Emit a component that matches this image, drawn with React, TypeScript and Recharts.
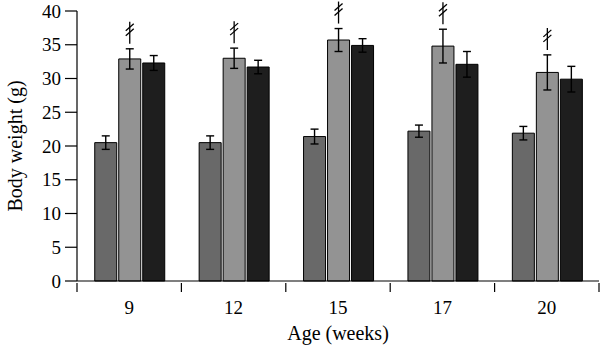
import { BarChart, Bar, XAxis, YAxis, ErrorBar, LabelList } from 'recharts';

const ages = ['9', '12', '15', '17', '20'];
const groupA = [20.5, 20.5, 21.4, 22.2, 21.9];
const groupAErr = [1.0, 1.0, 1.1, 0.9, 1.0];
const groupB = [32.9, 33.0, 35.7, 34.8, 30.9];
const groupBErr = [1.5, 1.5, 1.7, 2.5, 2.6];
const groupC = [32.3, 31.7, 34.9, 32.1, 29.9];
const groupCErr = [1.1, 1.0, 1.0, 1.9, 1.9];
const yTicks = [0, 5, 10, 15, 20, 25, 30, 35, 40];

const data = ages.map((age, i) => ({
  age,
  a: groupA[i],
  aErr: groupAErr[i],
  b: groupB[i],
  bErr: groupBErr[i],
  c: groupC[i],
  cErr: groupCErr[i],
}));

const FONT = '"Liberation Serif", "DejaVu Serif", serif';

// x tick: label in the middle, tick marks at the category edges
const AgeTick = (props: any) => {
  const { x, y, payload, index } = props;
  const half = payload && payload.offset ? payload.offset : 52.2;
  const top = y - 8;
  return (
    <g>
      <line x1={x - half} y1={top} x2={x - half} y2={top + 9} stroke="#000" strokeWidth={1.2} />
      {index === ages.length - 1 && (
        <line x1={x + half} y1={top} x2={x + half} y2={top + 9} stroke="#000" strokeWidth={1.2} />
      )}
      <text x={x} y={top + 31} textAnchor="middle" fontFamily={FONT} fontSize={19} fill="#000">
        {payload.value}
      </text>
    </g>
  );
};

// significance mark above the error bar of the second series
const HashMark = (props: any) => {
  const { x, y, width, height, value, index } = props;
  if (value == null) return null;
  const cx = x + width / 2;
  const errTop = y - groupBErr[index] * (height / value);
  const c = errTop - 17;
  return (
    <g stroke="#000" strokeWidth={1.3}>
      <line x1={cx} y1={errTop - 5} x2={cx} y2={errTop - 27} />
      <line x1={cx - 4} y1={c - 1} x2={cx + 4} y2={c - 8} />
      <line x1={cx - 4} y1={c + 4} x2={cx + 4} y2={c - 3} />
    </g>
  );
};

export default function App() {
  return (
    <div style={{ position: 'absolute', left: 0, top: 0, width: 600, height: 353, background: '#fff' }}>
      <BarChart
        width={600}
        height={353}
        data={data}
        margin={{ top: 11, right: 1, bottom: 0, left: 0 }}
        barCategoryGap="17%"
        barGap={2}
      >
        <XAxis
          dataKey="age"
          height={72}
          axisLine={{ stroke: '#000', strokeWidth: 1.2 }}
          tickLine={false}
          tick={<AgeTick />}
          tickSize={8}
          interval={0}
          label={{ value: 'Age (weeks)', position: 'insideBottom', offset: 13, fontFamily: FONT, fontSize: 20, fill: '#000' }}
        />
        <YAxis
          width={77}
          domain={[0, 40]}
          ticks={yTicks}
          interval={0}
          axisLine={{ stroke: '#000', strokeWidth: 1.2 }}
          tickLine={{ stroke: '#000', strokeWidth: 1.2 }}
          tickSize={12}
          tickMargin={4}
          tick={{ fontFamily: FONT, fontSize: 19, fill: '#000' }}
          label={{ value: 'Body weight (g)', angle: -90, position: 'insideLeft', offset: 15, style: { textAnchor: 'middle' }, fontFamily: FONT, fontSize: 20, fill: '#000' }}
        />
        <Bar dataKey="a" fill="#696969" stroke="#000" strokeWidth={1} isAnimationActive={false}>
          <ErrorBar dataKey="aErr" width={4} stroke="#000" strokeWidth={1.4} />
        </Bar>
        <Bar dataKey="b" fill="#939393" stroke="#000" strokeWidth={1} isAnimationActive={false}>
          <ErrorBar dataKey="bErr" width={4} stroke="#000" strokeWidth={1.4} />
          <LabelList dataKey="b" content={<HashMark />} />
        </Bar>
        <Bar dataKey="c" fill="#1e1e1e" stroke="#000" strokeWidth={1} isAnimationActive={false}>
          <ErrorBar dataKey="cErr" width={4} stroke="#000" strokeWidth={1.4} />
        </Bar>
      </BarChart>
    </div>
  );
}
